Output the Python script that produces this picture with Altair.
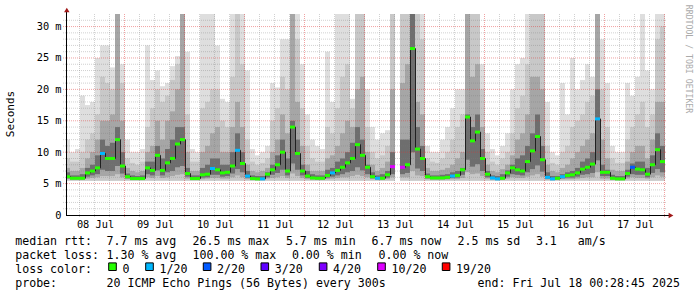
import altair as alt
import pandas as pd

MONO = "DejaVu Sans Mono"
STEP = 2                      # hours per consolidated step
X_DOMAIN = [0.4, 240.4]       # hours after 08 Jul 00:00
Y_DOMAIN = [0, 32]            # ms
SMOKE_FLOOR = 5.45

# median rtt per 2-hour step (ms); None = no data
MEDIAN = [
    6.1, 5.85, 5.85, 5.85, 6.7, 7.0, 7.5, 9.8, 9.0, 9.0,
    12.0, 7.8, 6.1, 5.8, 5.8, 5.8, 7.5, 7.1, 9.5, 7.1,
    8.3, 9.0, 11.3, 12.0, 6.6, 5.8, 5.8, 6.4, 6.5, 7.4,
    7.2, 6.7, 6.8, 7.8, 10.3, 8.2, 6.2, 5.8, 5.75, 5.75,
    6.5, 7.2, 8.0, 10.0, 7.0, 14.0, 9.8, 7.0, 6.2, 5.9,
    5.85, 5.85, 6.3, 6.7, 7.1, 7.6, 8.3, 9.0, 11.2, 9.5,
    7.6, 6.1, 5.85, 5.85, 6.4, 7.7, None, 7.6, 8.0, 26.5,
    10.5, 9.0, 6.1, 5.9, 5.9, 5.9, 6.0, 6.2, 6.3, 7.2,
    15.6, 11.8, 13.2, 9.0, 6.5, 5.9, 5.75, 5.85, 6.7, 7.5,
    7.2, 7.0, 8.5, 10.2, 12.5, 8.8, 6.0, 5.75, 5.85, 6.1,
    6.3, 6.4, 6.7, 7.3, 7.6, 8.1, 15.3, 6.8, 6.8, 5.85,
    5.75, 5.75, 6.6, 7.6, 7.3, 7.2, 6.5, 8.0, 10.4, 8.5,
]
# lost pings out of 20 per step
LOSS = [
    0, 0, 0, 0, 0, 0, 0, 1, 0, 0,
    0, 0, 0, 0, 0, 0, 0, 0, 0, 0,
    0, 0, 0, 0, 0, 0, 0, 0, 0, 1,
    0, 0, 0, 0, 1, 0, 1, 0, 0, 1,
    0, 0, 0, 0, 0, 0, 0, 0, 0, 0,
    0, 0, 0, 1, 0, 0, 0, 0, 0, 0,
    0, 0, 1, 0, 0, 10, None, 10, 0, 0,
    0, 0, 0, 0, 0, 0, 0, 1, 0, 0,
    0, 0, 0, 0, 0, 1, 1, 0, 0, 0,
    0, 0, 0, 0, 0, 0, 1, 1, 0, 1,
    0, 0, 0, 0, 0, 0, 1, 0, 0, 0,
    0, 0, 0, 2, 0, 0, 0, 0, 0, 0,
]
# smoke band tops (lightest = highest pings) and bottoms
HI4 = [
    12, 10, 10.5, 19, 17.5, 18, 25, 27, 27, 23.5,
    32, 24, 12, 10, 10, 10.5, 27, 21.5, 23, 20.5,
    21, 23.7, 25.3, 32, 26, 10.5, 10, 32, 32, 32,
    27, 18.5, 18, 32, 32, 32, 23, 10.5, 9.5, 10,
    11, 21, 20.3, 28, 28, 32, 32, 24, 16, 12,
    11, 10.5, 26, 18, 32, 32, 32, 18.5, 32, 32,
    20, 14, 12, 13, 13.5, 32, None, 32, 32, 32,
    32, 32, 11, 10, 10, 12, 14, 17, 20, 20,
    32, 32, 32, 24, 13, 10.5, 9.5, 11, 13, 20,
    24, 25, 32, 32, 32, 32, 18, 10, 9.5, 21,
    16, 25, 20, 21.5, 24, 22, 32, 28, 21, 11,
    10, 10, 21, 19, 22, 32, 23, 20, 32, 32,
]
HI3 = [
    9, 8.5, 8.5, 10, 12, 13, 16, 22, 21, 20,
    32, 21, 9, 8.3, 8, 8.5, 14, 17, 20, 18,
    19, 21.5, 24, 32, 16, 8.5, 8.5, 17, 18, 20,
    20, 15, 14, 22, 32, 24, 12, 8.5, 8, 8.3,
    9, 15, 17, 22, 20, 32, 28, 17, 11, 9,
    8.5, 8.5, 14, 13, 17, 22, 24, 17, 32, 32,
    14, 10, 9, 9.5, 11, 32, None, 32, 32, 32,
    32, 28, 9, 8.5, 8.3, 9, 10, 12, 14, 16,
    32, 32, 32, 20, 10, 8.5, 8, 9, 10, 13,
    17, 19, 24, 32, 32, 32, 11, 8.3, 8, 10,
    11, 14, 15, 16, 18, 19, 32, 20, 14, 9,
    8.3, 8.3, 12, 14, 16, 18, 14, 16, 28, 30,
]
HI2 = [
    7.5, 7, 7, 7.5, 9, 10, 12, 15, 15, 16,
    32, 15, 7.5, 7, 6.8, 7, 10, 11, 15, 12,
    15, 16.5, 20, 32, 10, 7, 7, 10, 11, 13,
    14, 10, 10, 14, 18, 14, 8, 7, 6.8, 7,
    7.5, 10, 12, 16, 13, 32, 18, 11, 8, 7,
    7, 7, 9, 9.5, 11, 13, 15, 14, 20, 22,
    10, 8, 7, 7.5, 8.5, 20, None, 21, 24, 32,
    18, 16, 7.5, 7, 7, 7.2, 7.5, 8, 9, 10,
    32, 22, 24, 14, 8, 7, 6.8, 7.3, 8, 9.5,
    12, 13, 16, 22, 22, 20, 8, 7, 6.8, 7.5,
    8, 9, 10, 11, 12, 13, 32, 12, 9, 7.2,
    7, 7, 8.5, 10, 11, 11, 9, 12, 18, 18,
]
HI1 = [
    6.8, 6.3, 6.3, 6.5, 7.5, 8, 9.5, 12, 11, 11.5,
    14, 10, 6.6, 6.3, 6.2, 6.3, 8.5, 8.5, 11, 9,
    10.5, 12, 14, 14, 7.5, 6.3, 6.3, 7.5, 8, 9,
    9, 8, 8, 10, 13, 10, 7, 6.3, 6.2, 6.2,
    6.8, 8, 9.5, 12, 9, 15, 12, 8, 7, 6.5,
    6.3, 6.3, 7.2, 7.5, 8.5, 9, 10, 11.5, 14, 12,
    8, 6.8, 6.3, 6.5, 7, 10, None, 12, 12, 32,
    14, 11, 6.6, 6.3, 6.3, 6.4, 6.5, 6.8, 7, 7.5,
    16, 14, 16, 10.5, 7, 6.3, 6.2, 6.5, 7.1, 8,
    9, 9.5, 11, 13, 16, 11, 6.8, 6.2, 6.2, 6.5,
    6.8, 7, 7.5, 8.5, 9, 10, 20, 8, 7.2, 6.4,
    6.2, 6.2, 7.2, 8.2, 8.5, 8.5, 7.5, 9.5, 13, 11,
]
LO2 = [
    5.7, 5.6, 5.6, 5.6, 5.8, 5.9, 6.0, 6.2, 6.2, 6.2,
    6.5, 6.0, 5.7, 5.6, 5.6, 5.6, 6.0, 5.9, 6.2, 5.9,
    6.0, 6.2, 6.4, 6.5, 5.8, 5.6, 5.6, 5.7, 5.8, 5.9,
    5.9, 5.8, 5.8, 6.0, 6.3, 6.0, 5.7, 5.6, 5.55, 5.55,
    5.8, 5.9, 6.0, 6.2, 5.9, 6.6, 6.2, 5.9, 5.7, 5.6,
    5.6, 5.6, 5.7, 5.8, 5.9, 6.0, 6.0, 6.2, 6.4, 6.2,
    6.0, 5.7, 5.6, 5.6, 5.7, 6.0, None, 6.0, 6.0, 7.0,
    6.3, 6.2, 5.7, 5.6, 5.6, 5.6, 5.65, 5.7, 5.7, 5.9,
    6.8, 6.5, 6.6, 6.2, 5.8, 5.6, 5.55, 5.6, 5.8, 6.0,
    5.9, 5.9, 6.1, 6.3, 6.5, 6.1, 5.65, 5.55, 5.6, 5.7,
    5.7, 5.7, 5.8, 5.9, 6.0, 6.0, 6.8, 5.8, 5.8, 5.6,
    5.55, 5.55, 5.8, 6.0, 5.9, 5.9, 5.8, 6.0, 6.3, 6.1,
]
LO1 = [
    5.85, 5.7, 5.7, 5.7, 6.1, 6.3, 6.5, 7.2, 7.0, 7.0,
    7.8, 6.6, 5.85, 5.7, 5.7, 5.7, 6.5, 6.3, 7.1, 6.3,
    6.8, 7.0, 7.6, 7.8, 6.1, 5.7, 5.7, 5.95, 6.0, 6.4,
    6.4, 6.1, 6.2, 6.6, 7.3, 6.8, 5.9, 5.7, 5.65, 5.65,
    6.0, 6.4, 6.7, 7.2, 6.3, 8.2, 7.2, 6.3, 5.9, 5.75,
    5.7, 5.7, 5.95, 6.1, 6.3, 6.5, 6.8, 7.0, 7.6, 7.1,
    6.5, 5.85, 5.7, 5.7, 5.95, 6.5, None, 6.5, 6.7, 10.0,
    7.4, 7.0, 5.85, 5.75, 5.75, 5.75, 5.8, 5.9, 5.95, 6.4,
    8.8, 7.7, 8.1, 7.0, 6.0, 5.75, 5.65, 5.7, 6.1, 6.5,
    6.4, 6.3, 6.8, 7.3, 7.9, 6.9, 5.8, 5.65, 5.7, 5.85,
    5.95, 5.95, 6.1, 6.4, 6.5, 6.7, 8.7, 6.2, 6.2, 5.7,
    5.65, 5.65, 6.1, 6.5, 6.4, 6.4, 6.0, 6.7, 7.3, 6.8,
]

DAY_LABELS = ["08 Jul", "09 Jul", "10 Jul", "11 Jul", "12 Jul",
              "13 Jul", "14 Jul", "15 Jul", "16 Jul", "17 Jul"]
X_LABEL_HOURS = [12, 36, 60, 84, 108, 132, 156, 180, 204, 228]
X_GRID_MAJOR = [24, 48, 72, 96, 120, 144, 168, 192, 216, 240]
X_GRID_MINOR = [6, 12, 18, 30, 36, 42, 54, 60, 66, 78, 84, 90, 102, 108, 114,
                126, 132, 138, 150, 156, 162, 174, 180, 186, 198, 204, 210,
                222, 228, 234]
Y_LABEL_VALUES = [0, 5, 10, 15, 20, 25, 30]
Y_GRID_MAJOR = [5, 10, 15, 20, 25, 30]
Y_GRID_MINOR = [1, 2, 3, 4, 6, 7, 8, 9, 11, 12, 13, 14, 16, 17, 18, 19,
                21, 22, 23, 24, 26, 27, 28, 29, 31]

LOSS_CODES = [0, 1, 2, 3, 4, 10, 19]
LOSS_LABELS = ["0", "1/20", "2/20", "3/20", "4/20", "10/20", "19/20"]
LOSS_COLORS = ["#26ff00", "#00b8ff", "#0059ff", "#5e00ff", "#7e00ff", "#dd00ff", "#ff0000"]
LOSS_NAME = dict(zip(LOSS_CODES, LOSS_LABELS))

rows = []
for k, m in enumerate(MEDIAN):
    rows.append(dict(
        t0=k * STEP, t1=(k + 1) * STEP, tm=k * STEP + STEP / 2, med=m,
        loss=None if LOSS[k] is None else LOSS_NAME[LOSS[k]],
        floor=SMOKE_FLOOR, lo2=LO2[k], lo1=LO1[k],
        hi1=HI1[k], hi2=HI2[k], hi3=HI3[k], hi4=HI4[k],
    ))
df = pd.DataFrame(rows)
valid = df[df["med"].notna()].copy()

xs = alt.Scale(domain=X_DOMAIN, nice=False, zero=False)
ys = alt.Scale(domain=Y_DOMAIN, nice=False)
label_js = "[" + ",".join("'%s'" % s for s in DAY_LABELS) + "]"
X_AXIS = alt.Axis(values=X_LABEL_HOURS, labelExpr=label_js + "[floor(datum.value/24)]",
                  ticks=False, domain=False, grid=False, labelFont=MONO, labelFontSize=10.3,
                  labelColor="black", labelBaseline="alphabetic", labelPadding=12.7,
                  labelOverlap=False, labelFlush=False, title=None)
Y_AXIS = alt.Axis(values=Y_LABEL_VALUES,
                  labelExpr="datum.value == 0 ? '0\u00a0\u00a0' : datum.value + ' m'",
                  ticks=False, domain=False, grid=False, labelFont=MONO, labelFontSize=10.3,
                  labelColor="black", labelPadding=5, labelOverlap=False, labelFlush=False,
                  title=None)

def X(field):
    return alt.X(field, scale=xs, axis=X_AXIS)

def Y(field):
    return alt.Y(field, scale=ys, axis=Y_AXIS)

def band(lo, hi, color):
    return alt.Chart(valid).mark_rect(color=color, clip=True).encode(
        x=X("t0:Q"), x2="t1:Q", y=Y(lo + ":Q"), y2=hi + ":Q")

layers = [
    band("floor", "hi4", "#dedede"),
    band("floor", "hi3", "#c8c8c8"),
    band("lo2", "hi2", "#a6a6a6"),
    band("lo1", "hi1", "#6e6e6e"),
]

# grid (drawn over the smoke, like rrdtool)
def vgrid(hours, color, opacity):
    return alt.Chart(pd.DataFrame({"h": hours})).mark_rule(
        color=color, opacity=opacity, strokeDash=[1, 1], strokeWidth=1, xOffset=-0.5
    ).encode(x=X("h:Q"), y=alt.value(0), y2=alt.value(204))

def hgrid(vals, color, opacity):
    return alt.Chart(pd.DataFrame({"v": vals})).mark_rule(
        color=color, opacity=opacity, strokeDash=[1, 1], strokeWidth=1
    ).encode(y=Y("v:Q"), x=alt.value(-3), x2=alt.value(600))

layers += [
    vgrid(X_GRID_MINOR, "#7a7a7a", 0.35),
    hgrid(Y_GRID_MINOR, "#7a7a7a", 0.35),
    vgrid(X_GRID_MAJOR, "#e03030", 0.45),
    hgrid(Y_GRID_MAJOR, "#e03030", 0.45),
]

# median line and loss-coloured median dashes
layers.append(alt.Chart(df).mark_line(
    interpolate="step", color="#202020", strokeWidth=1, clip=True, xOffset=0.5
).encode(x=X("tm:Q"), y=Y("med:Q")))

layers.append(alt.Chart(valid).mark_rule(strokeWidth=3, clip=True).encode(
    x=X("t0:Q"), x2="t1:Q", y=Y("med:Q"),
    color=alt.Color("loss:N", scale=alt.Scale(domain=LOSS_LABELS, range=LOSS_COLORS), legend=None),
))

one = alt.Data(values=[{}])
# axis lines and arrows
layers.append(alt.Chart(one).mark_rule(color="black", strokeWidth=1).encode(
    x=alt.value(0), x2=alt.value(603), y=alt.value(201.5)))
layers.append(alt.Chart(one).mark_rule(color="black", strokeWidth=1).encode(
    x=alt.value(0.5), y=alt.value(-3), y2=alt.value(201.5)))
layers.append(alt.Chart(one).mark_point(shape="triangle-up", filled=True, size=30,
                                        color="#a01818", opacity=1).encode(
    x=alt.value(0.8), y=alt.value(-4)))
layers.append(alt.Chart(one).mark_point(shape="triangle-right", filled=True, size=30,
                                        color="#a01818", opacity=1).encode(
    x=alt.value(605), y=alt.value(201.5)))

def txt(s, x, y, size=11.6, color="black", angle=0, align="left", baseline="alphabetic"):
    return alt.Chart(one).mark_text(
        text=s.replace(" ", "\u00a0"), font=MONO, fontSize=size, color=color,
        angle=angle, align=align, baseline=baseline
    ).encode(x=alt.value(x), y=alt.value(y))

# loss colour legend row: swatch + label per loss class (left edges in px)
SWATCH_LEFT = [42.7, 79.7, 137.3, 195.0, 253.3, 311.7, 376.3]
for lab, col, left in zip(LOSS_LABELS, LOSS_COLORS, SWATCH_LEFT):
    layers.append(alt.Chart(one).mark_square(
        filled=True, size=58, color=col, stroke="black", strokeWidth=1, opacity=1
    ).encode(x=alt.value(left + 3.8), y=alt.value(252.7)))
    layers.append(txt(lab, left + 13.8, 258.7))

layers += [
    txt("Seconds", -55, 100, size=11, angle=270, align="center", baseline="middle"),
    txt("RRDTOOL / TOBI OETIKER", 622, 45, size=8.2, color="#aaaaaa", angle=90,
        align="center", baseline="middle"),
    txt("median rtt:", -50.8, 230.7),
    txt("7.7 ms avg", 40.5, 230.7),
    txt("26.5 ms max", 126.5, 230.7),
    txt("5.7 ms min", 219.9, 230.7),
    txt("6.7 ms now", 305.5, 230.7),
    txt("2.5 ms sd", 391.5, 230.7),
    txt("3.1   am/s", 469.9, 230.7),
    txt("packet loss:", -50.8, 244.7),
    txt("1.30 % avg", 40.5, 244.7),
    txt("100.00 % max", 126.5, 244.7),
    txt("0.00 % min", 225.9, 244.7),
    txt("0.00 % now", 312.5, 244.7),
    txt("loss color:", -50.8, 258.7),
    txt("probe:", -50.8, 273),
    txt("20 ICMP Echo Pings (56 Bytes) every 300s", 40.5, 273),
    txt("end: Fri Jul 18 00:28:45 2025", 411.5, 273),
]

chart = alt.layer(*layers).properties(
    width=600, height=201,
    padding={"left": 66, "top": 14, "right": 31, "bottom": 82},
    autosize=alt.AutoSizeParams(type="none"),
    background="white",
).configure_view(stroke=None)

chart.save("out.html", embed_options={"renderer": "svg", "actions": False})
